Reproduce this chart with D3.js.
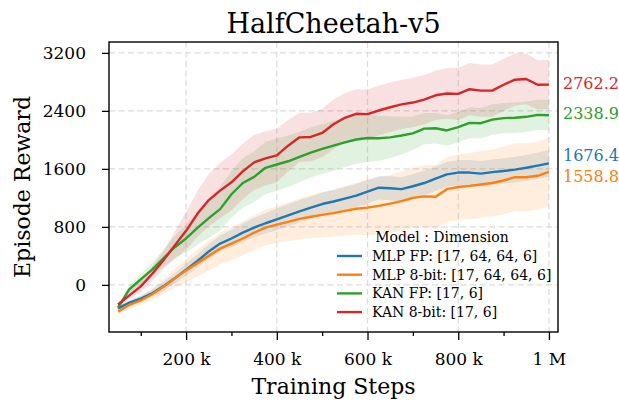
<!DOCTYPE html>
<html>
<head>
<meta charset="utf-8">
<script src="https://cdn.jsdelivr.net/npm/d3@7"></script>
<style>
  body { margin: 0; background: #fff; }
  svg { display: block; font-family: "DejaVu Serif", serif; }
</style>
</head>
<body>
<svg></svg>
<script>
// training steps (shared x for every run)
const steps = [50000, 75000, 100000, 125000, 150000, 175000, 200000, 225000, 250000, 275000,
  300000, 325000, 350000, 375000, 400000, 425000, 450000, 475000, 500000, 525000,
  550000, 575000, 600000, 625000, 650000, 675000, 700000, 725000, 750000, 775000,
  800000, 825000, 850000, 875000, 900000, 925000, 950000, 975000, 1000000];

// mean episode reward
const mlpFp = [-325, -245, -190, -115, -20, 90, 210, 330, 460, 570,
  640, 720, 790, 850, 905, 960, 1015, 1065, 1115, 1150,
  1190, 1230, 1285, 1340, 1332, 1320, 1360, 1405, 1465, 1525,
  1549, 1549, 1535, 1555, 1570, 1590, 1615, 1645, 1676.4];
const mlp8bit = [-370, -275, -215, -130, -25, 90, 200, 300, 400, 500,
  570, 640, 720, 790, 830, 870, 910, 940, 965, 990,
  1020, 1050, 1065, 1090, 1120, 1155, 1200, 1220, 1215, 1320,
  1350, 1365, 1385, 1405, 1440, 1485, 1485, 1505, 1558.8];
const kanFp = [-315, -60, 75, 210, 365, 520, 640, 785, 920, 1045,
  1250, 1405, 1490, 1615, 1660, 1705, 1765, 1825, 1875, 1920,
  1965, 2005, 2025, 2022, 2035, 2060, 2090, 2155, 2160, 2130,
  2175, 2235, 2230, 2280, 2300, 2305, 2318, 2345, 2338.9];
const kan8bit = [-270, -145, -20, 150, 340, 545, 745, 980, 1170, 1300,
  1415, 1565, 1690, 1745, 1785, 1920, 2035, 2040, 2095, 2215,
  2305, 2360, 2355, 2405, 2450, 2490, 2515, 2555, 2615, 2640,
  2634, 2699, 2680, 2680, 2760, 2830, 2840, 2760, 2762.2];

// spread (std) around each mean
const mlpFpStd = [30, 38, 45, 52, 60, 70, 80, 90, 100, 110,
  120, 128, 135, 142, 150, 152, 155, 155, 158, 160,
  160, 160, 162, 162, 165, 165, 168, 168, 170, 170,
  172, 172, 175, 175, 175, 178, 178, 180, 180];
const mlp8bitStd = [40, 50, 60, 80, 100, 130, 160, 185, 205, 220,
  230, 235, 240, 245, 250, 265, 280, 295, 310, 325,
  340, 360, 380, 390, 400, 410, 420, 430, 440, 445,
  450, 455, 460, 460, 465, 465, 470, 470, 475];
const kanFpStd = [30, 50, 70, 95, 120, 150, 190, 230, 270, 300,
  320, 340, 350, 360, 360, 355, 350, 345, 345, 345,
  340, 335, 330, 310, 290, 260, 230, 215, 210, 210,
  210, 210, 210, 210, 210, 210, 210, 210, 210];
const kan8bitStd = [30, 50, 80, 100, 120, 190, 260, 320, 360, 380,
  385, 385, 380, 375, 370, 355, 340, 335, 335, 340,
  340, 340, 340, 340, 340, 340, 340, 340, 340, 350,
  360, 360, 360, 360, 360, 360, 350, 340, 340];

const seriesLabels = ["MLP FP: [17, 64, 64, 6]", "MLP 8-bit: [17, 64, 64, 6]",
  "KAN FP: [17, 6]", "KAN 8-bit: [17, 6]"];
const seriesColors = ["#1f77b4", "#ff7f0e", "#2ca02c", "#d62728"];

const yTicks = [0, 800, 1600, 2400, 3200];
const xTicks = [200000, 400000, 600000, 800000, 1000000];
const xMinorTicks = [100000, 300000, 500000, 700000, 900000];
const xTickLabels = ["200 k", "400 k", "600 k", "800 k", "1 M"];

const series = [
  { mean: mlpFp, std: mlpFpStd },
  { mean: mlp8bit, std: mlp8bitStd },
  { mean: kanFp, std: kanFpStd },
  { mean: kan8bit, std: kan8bitStd }
].map((s, i) => ({ ...s, label: seriesLabels[i], color: seriesColors[i] }));

let svg = d3.select("svg").attr("width", 619).attr("height", 404);

const pLeft = 109, pRight = 558, pTop = 42, pBottom = 332;
const x = d3.scaleLinear().domain([30000, 1020000]).range([pLeft, pRight]);
const y = d3.scaleLinear().domain([-650, 3350]).range([pBottom, pTop]);

// grid
let grid = svg.append("g")
  .style("stroke", "#dcdcdc")
  .style("stroke-width", 1.2)
  .style("stroke-dasharray", "6,3.5");
grid.selectAll(".gy").data(yTicks).enter().append("line")
  .attr("x1", pLeft).attr("x2", pRight)
  .attr("y1", d => y(d)).attr("y2", d => y(d));
grid.selectAll(".gx").data(xTicks).enter().append("line")
  .attr("y1", pTop).attr("y2", pBottom)
  .attr("x1", d => x(d)).attr("x2", d => x(d));

// bands then lines
const area = d3.area()
  .x((d, i) => x(steps[i]))
  .y0(d => y(d[0] - d[1]))
  .y1(d => y(d[0] + d[1]));
const line = d3.line()
  .x((d, i) => x(steps[i]))
  .y(d => y(d));

let plot = svg.append("g");
series.forEach(s => {
  plot.append("path")
    .attr("d", area(s.mean.map((m, i) => [m, s.std[i]])))
    .style("fill", s.color)
    .style("fill-opacity", 0.14)
    .style("stroke", "none");
});
series.forEach(s => {
  plot.append("path")
    .attr("d", line(s.mean))
    .style("fill", "none")
    .style("stroke", s.color)
    .style("stroke-width", 2.4)
    .style("stroke-linejoin", "round");
});

// frame
svg.append("rect")
  .attr("x", pLeft).attr("y", pTop)
  .attr("width", pRight - pLeft).attr("height", pBottom - pTop)
  .style("fill", "none")
  .style("stroke", "#000")
  .style("stroke-width", 1.4);

// axes
let yAxis = svg.append("g")
  .attr("transform", `translate(${pLeft},0)`)
  .call(d3.axisLeft(y).tickValues(yTicks).tickSize(7).tickPadding(16).tickFormat(d3.format("d")));
let xAxis = svg.append("g")
  .attr("transform", `translate(0,${pBottom})`)
  .call(d3.axisBottom(x).tickValues(xTicks).tickSize(8).tickPadding(13)
    .tickFormat((d, i) => xTickLabels[i]));
let xMinor = svg.append("g")
  .attr("transform", `translate(0,${pBottom})`)
  .call(d3.axisBottom(x).tickValues(xMinorTicks).tickSize(4).tickFormat(""));

[yAxis, xAxis, xMinor].forEach(a => {
  a.select(".domain").remove();
  a.selectAll(".tick line").style("stroke", "#000").style("stroke-width", 1.3);
  a.selectAll(".tick text")
    .style("font-family", "DejaVu Serif")
    .style("font-size", "17px")
    .style("fill", "#000");
});

// titles
svg.append("text")
  .attr("x", (pLeft + pRight) / 2).attr("y", 33)
  .attr("text-anchor", "middle")
  .style("font-size", "27px")
  .text("HalfCheetah-v5");
svg.append("text")
  .attr("x", (pLeft + pRight) / 2).attr("y", 394)
  .attr("text-anchor", "middle")
  .style("font-size", "22px")
  .text("Training Steps");
svg.append("text")
  .attr("transform", `translate(30,${(pTop + pBottom) / 2}) rotate(-90)`)
  .attr("text-anchor", "middle")
  .style("font-size", "22px")
  .text("Episode Reward");

// end-value labels, pushed apart when they collide
let ends = series.map(s => ({ v: s.mean[s.mean.length - 1], color: s.color, pos: y(s.mean[s.mean.length - 1]) - 1.5 }));
ends.sort((a, b) => a.pos - b.pos);
const minGap = 20.5;
for (let k = 0; k < 50; k++) {
  for (let i = 1; i < ends.length; i++) {
    let gap = ends[i].pos - ends[i - 1].pos;
    if (gap < minGap) {
      let push = (minGap - gap) / 2;
      ends[i].pos += push;
      ends[i - 1].pos -= push;
    }
  }
}
svg.selectAll(".endlabel").data(ends).enter().append("text")
  .attr("x", 563).attr("y", d => d.pos).attr("dy", "0.35em")
  .style("font-size", "16px")
  .style("fill", d => d.color)
  .text(d => d3.format(".1f")(d.v));

// legend
let legend = svg.append("g").style("font-size", "14px");
legend.append("text")
  .attr("x", 442).attr("y", 237).attr("dy", "0.35em")
  .attr("text-anchor", "middle")
  .text("Model : Dimension");
series.forEach((s, i) => {
  let ly = 256 + i * 18.7;
  legend.append("line")
    .attr("x1", 337).attr("x2", 362)
    .attr("y1", ly).attr("y2", ly)
    .style("stroke", s.color)
    .style("stroke-width", 2.4);
  legend.append("text")
    .attr("x", 372).attr("y", ly).attr("dy", "0.35em")
    .text(s.label);
});
</script>
</body>
</html>
